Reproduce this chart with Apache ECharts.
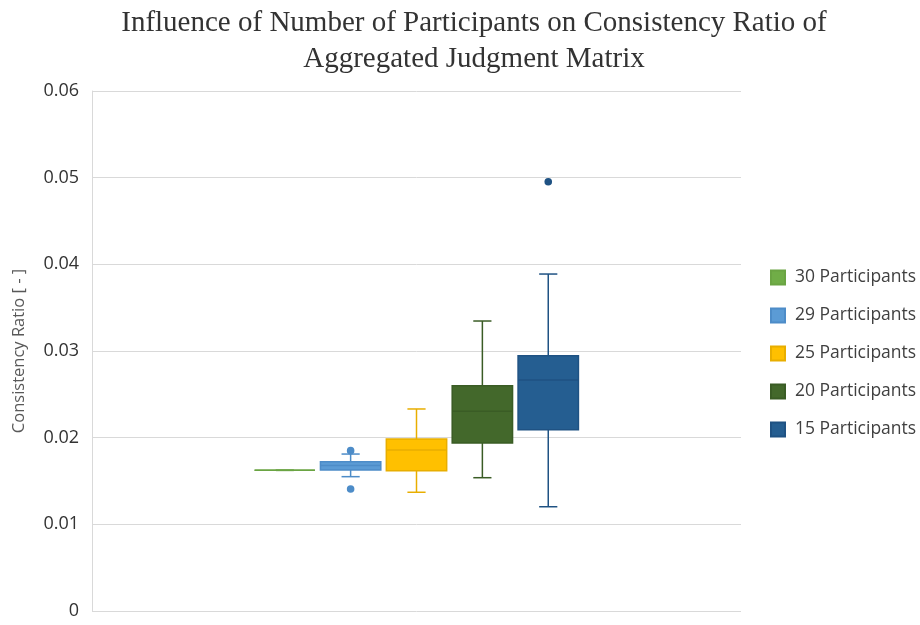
<!DOCTYPE html>
<html>
<head>
<meta charset="utf-8">
<script src="https://cdn.jsdelivr.net/npm/echarts@6/dist/echarts.min.js"></script>
<style>html,body{margin:0;padding:0;background:#fff;}#c{width:920px;height:625px;}</style>
</head>
<body>
<div id="c"></div>
<script>
// ---- data ----
const groupNames = ['30 Participants', '29 Participants', '25 Participants', '20 Participants', '15 Participants'];
// [min, Q1, median, Q3, max]
const stats30 = [0.01623, 0.01623, 0.01623, 0.01623, 0.01623];
const stats29 = [0.0155, 0.01627, 0.0168, 0.01723, 0.01811];
const stats25 = [0.0137, 0.01619, 0.01858, 0.01985, 0.02331];
const stats20 = [0.01538, 0.01938, 0.02304, 0.0260, 0.03346];
const stats15 = [0.01203, 0.02092, 0.02665, 0.02946, 0.03888];
const outliers30 = [];
const outliers29 = [0.0185, 0.01408];
const outliers25 = [];
const outliers20 = [];
const outliers15 = [0.04953];
const yTicks = [0, 0.01, 0.02, 0.03, 0.04, 0.05, 0.06];

const allStats = [stats30, stats29, stats25, stats20, stats15];
const allOutliers = [outliers30, outliers29, outliers25, outliers20, outliers15];
const fills = ['#70AD47', '#5B9BD5', '#FFC000', '#43682B', '#255E91'];
const strokes = ['#6AA443', '#4D8CC8', '#E8AE00', '#3A5C25', '#1F5283'];

const chart = echarts.init(document.getElementById('c'));

function offsetFor(i, band) { return (i - 2) * band * 0.1015; }

function makeBoxSeries(i) {
  return {
    name: groupNames[i],
    type: 'custom',
    itemStyle: { color: fills[i], borderColor: strokes[i], borderWidth: 1 },
    data: [[0].concat(allStats[i])],
    encode: { x: 0, y: [1, 2, 3, 4, 5] },
    renderItem: function (params, api) {
      const band = api.size([1, 0])[0];
      const cx = api.coord([0, 0])[0] + offsetFor(i, band);
      const w = band * 0.093;
      const cap = band * 0.028;
      const yMin = api.coord([0, api.value(1)])[1];
      const yQ1 = api.coord([0, api.value(2)])[1];
      const yMed = api.coord([0, api.value(3)])[1];
      const yQ3 = api.coord([0, api.value(4)])[1];
      const yMax = api.coord([0, api.value(5)])[1];
      const ls = { stroke: strokes[i], lineWidth: 1.5 };
      return {
        type: 'group',
        children: [
          { type: 'line', shape: { x1: cx, y1: yMax, x2: cx, y2: yQ3 }, style: ls },
          { type: 'line', shape: { x1: cx, y1: yQ1, x2: cx, y2: yMin }, style: ls },
          { type: 'line', shape: { x1: cx - cap / 2, y1: yMax, x2: cx + cap / 2, y2: yMax }, style: ls },
          { type: 'line', shape: { x1: cx - cap / 2, y1: yMin, x2: cx + cap / 2, y2: yMin }, style: ls },
          { type: 'rect', shape: { x: cx - w / 2, y: yQ3, width: w, height: Math.max(yQ1 - yQ3, 0) },
            style: { fill: fills[i], stroke: strokes[i], lineWidth: 1.5 } },
          { type: 'line', shape: { x1: cx - w / 2, y1: yMed, x2: cx + w / 2, y2: yMed },
            style: { stroke: strokes[i], lineWidth: 1.5 } }
        ]
      };
    }
  };
}

function makeOutlierSeries(i) {
  return {
    name: groupNames[i],
    type: 'custom',
    itemStyle: { color: fills[i] },
    data: allOutliers[i].map(v => [0, v]),
    encode: { x: 0, y: 1 },
    renderItem: function (params, api) {
      const band = api.size([1, 0])[0];
      const p = api.coord([0, api.value(1)]);
      return { type: 'circle', shape: { cx: p[0] + offsetFor(i, band), cy: p[1], r: 3.8 },
        style: { fill: strokes[i] } };
    }
  };
}

const series = [];
for (let i = 0; i < 5; i++) series.push(makeBoxSeries(i));
for (let i = 0; i < 5; i++) if (allOutliers[i].length) series.push(makeOutlierSeries(i));

chart.setOption({
  animation: false,
  title: {
    text: 'Influence of Number of Participants on Consistency Ratio of\nAggregated Judgment Matrix',
    left: 469, top: 0, textAlign: 'center',
    textStyle: { fontFamily: 'Liberation Serif', fontWeight: 'normal', fontSize: 29, lineHeight: 36, color: '#333' }
  },
  legend: {
    data: groupNames,
    orient: 'vertical', left: 765, top: 261,
    itemWidth: 14, itemHeight: 14, itemGap: 15, icon: 'rect',
    textStyle: { fontFamily: 'Open Sans', fontSize: 17.5, lineHeight: 23, color: '#404040', padding: [0, 0, 0, 5] }
  },
  grid: { left: 92, right: 179, top: 91, bottom: 14 },
  xAxis: {
    type: 'category', data: [''],
    axisLine: { show: false }, axisTick: { show: false }, axisLabel: { show: false }
  },
  yAxis: {
    type: 'value', min: yTicks[0], max: yTicks[yTicks.length - 1], interval: 0.01,
    name: 'Consistency Ratio [ - ]', nameLocation: 'middle', nameRotate: 90, nameGap: 64,
    nameTextStyle: { fontFamily: 'Open Sans', fontSize: 16.5, color: '#595959' },
    axisLine: { show: true, lineStyle: { color: '#d9d9d9' } },
    axisTick: { show: false },
    axisLabel: { fontFamily: 'Open Sans', fontSize: 18, color: '#333', margin: 13 },
    splitLine: { lineStyle: { color: '#d9d9d9' } }
  },
  series: series
});
</script>
</body>
</html>
